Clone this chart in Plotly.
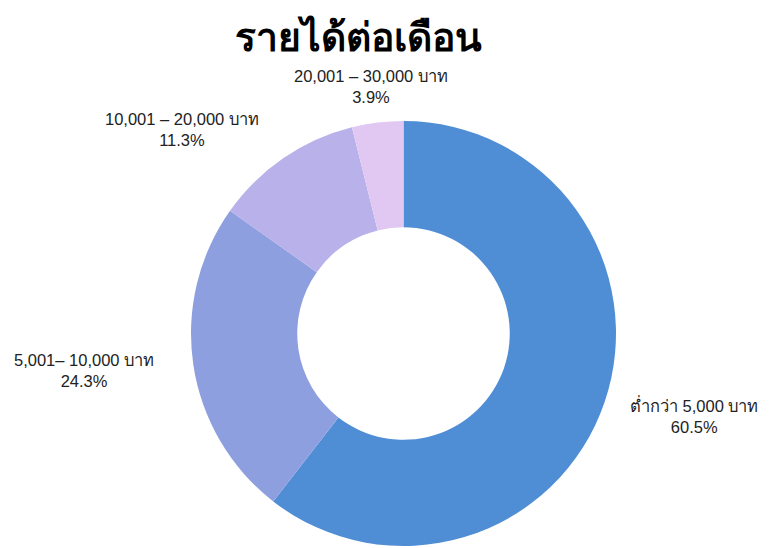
import plotly.graph_objects as go

labels = ["ต่ำกว่า 5,000 บาท", "5,001– 10,000 บาท", "10,001 – 20,000 บาท", "20,001 – 30,000 บาท"]
values = [60.5, 24.3, 11.3, 3.9]
colors = ["#4F8ED5", "#8E9FE0", "#B9B1EA", "#E1C8F3"]

# label centres in figure pixels (x, y from top)
label_pos = [(686, 407), (76, 362), (174, 121), (363, 79)]

W, H = 771, 548

fig = go.Figure(go.Pie(
    labels=labels,
    values=values,
    hole=0.5,
    sort=False,
    direction="clockwise",
    rotation=0,
    marker=dict(colors=colors, line=dict(width=0)),
    textinfo="none",
    hoverinfo="label+percent",
    showlegend=False,
    domain=dict(x=[183 / W, 608 / W], y=[1 - 538 / H, 1 - 113 / H]),
))

total = sum(values)
for lab, val, (px_, py_) in zip(labels, values, label_pos):
    fig.add_annotation(
        x=px_ / W, y=1 - py_ / H, xref="paper", yref="paper",
        xanchor="center", yanchor="middle", showarrow=False,
        text=f"{lab}<br>{val / total * 100:.1f}%",
        font=dict(family="Liberation Sans, Arial, sans-serif", size=16.5, color="#222222"),
    )

fig.update_layout(
    width=W, height=H,
    title=dict(
        text="<b>รายได้ต่อเดือน</b>",
        x=350 / W, xanchor="center", y=1 - 29 / H, yanchor="middle",
        font=dict(family="Noto Sans, sans-serif", size=39, color="#000000"),
    ),
    margin=dict(l=0, r=0, t=0, b=0, autoexpand=False),
    paper_bgcolor="white",
    plot_bgcolor="white",
)

fig.write_html("out.html")
